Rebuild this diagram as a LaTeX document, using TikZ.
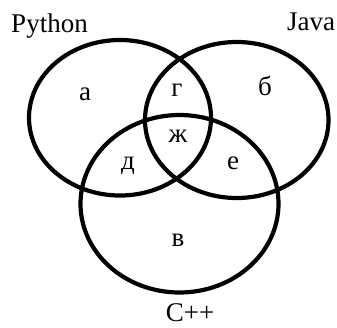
\documentclass[tikz,border=0pt]{standalone}
\usepackage{fontspec}
\setmainfont{Liberation Serif}
\begin{document}
\begin{tikzpicture}[x=1pt,y=-1pt,
  setline/.style={line width=4.2pt,black},
  lbl/.style={inner sep=0pt,anchor=base,font=\fontsize{27}{30}\selectfont}]
\useasboundingbox (0,0) rectangle (337,327);
\draw[setline] (120,117.75) ellipse [x radius=91pt, y radius=77.75pt];
\draw[setline] (236.75,120) ellipse [x radius=91.75pt, y radius=78pt];
\draw[setline] (179.5,203.75) ellipse [x radius=99pt, y radius=88.75pt];
\node[lbl] (py) at (49.5,32) {Python};
\node[lbl] (ja) at (311,30) {Java};
\node[lbl] (cp) at (190,321) {C++};
\node[lbl] (a) at (85,100) {а};
\node[lbl] (g) at (177,96) {г};
\node[lbl] (b) at (265,95) {б};
\node[lbl] (zh) at (178,142) {ж};
\node[lbl] (d) at (128,169) {д};
\node[lbl] (e) at (233,169) {е};
\node[lbl] (v) at (178,246) {в};
\end{tikzpicture}
\end{document}
